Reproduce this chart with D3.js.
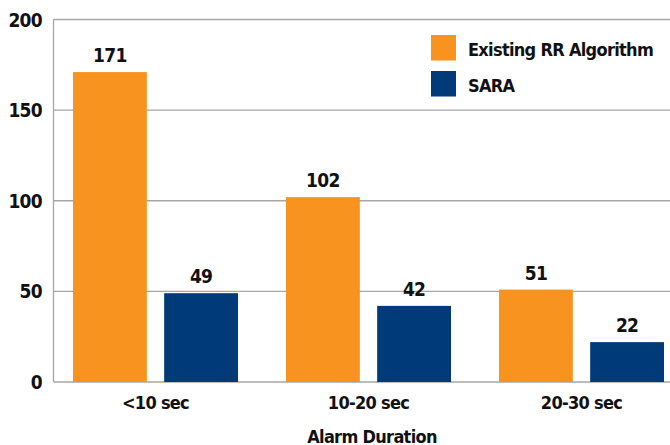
<!DOCTYPE html>
<html>
<head>
<meta charset="utf-8">
<script src="https://cdn.jsdelivr.net/npm/d3@7"></script>
<style>
  body { margin: 0; background: #fff; }
  svg text { font-family: "DejaVu Sans Condensed", "DejaVu Sans", sans-serif; font-weight: bold; fill: #111; letter-spacing: -0.7px; }
</style>
</head>
<body>
<svg id="chart" width="670" height="445"></svg>
<script>
// data
var categories = ["<10 sec", "10-20 sec", "20-30 sec"];
var seriesNames = ["Existing RR Algorithm", "SARA"];
var existingRR = [171, 102, 51];
var sara = [49, 42, 22];
var yTicks = [0, 50, 100, 150, 200];

var colors = ["#f7931e", "#003a78"];

var svg = d3.select("#chart");

var y = d3.scaleLinear().domain([0, 200]).range([382, 19.5]);
var x0 = d3.scaleBand().domain(categories).range([49, 688]).paddingInner(0).paddingOuter(0);
var x1 = d3.scaleBand().domain(seriesNames).range([24, x0.bandwidth() - 24]).paddingInner(0.19);

// gridlines
svg.append("g")
  .selectAll("line")
  .data(yTicks)
  .enter()
  .append("line")
  .attr("x1", 53.5).attr("x2", 670)
  .attr("y1", function (d) { return y(d); })
  .attr("y2", function (d) { return y(d); })
  .attr("stroke", "#a6a6a6")
  .attr("stroke-width", 1.3);

// left axis line
svg.append("line")
  .attr("x1", 53.5).attr("x2", 53.5)
  .attr("y1", y(200)).attr("y2", y(0))
  .attr("stroke", "#a6a6a6")
  .attr("stroke-width", 1.3);

// y tick labels
svg.append("g")
  .selectAll("text")
  .data(yTicks)
  .enter()
  .append("text")
  .attr("x", 42)
  .attr("y", function (d) { return y(d) + 7; })
  .attr("text-anchor", "end")
  .attr("font-size", 19)
  .text(function (d) { return d; });

var rows = categories.map(function (c, i) {
  return [{ cat: c, name: seriesNames[0], value: existingRR[i] },
          { cat: c, name: seriesNames[1], value: sara[i] }];
});

var groups = svg.append("g")
  .selectAll("g")
  .data(rows)
  .enter()
  .append("g")
  .attr("transform", function (d) { return "translate(" + x0(d[0].cat) + ",0)"; });

groups.selectAll("rect")
  .data(function (d) { return d; })
  .enter()
  .append("rect")
  .attr("x", function (d) { return x1(d.name); })
  .attr("width", x1.bandwidth())
  .attr("y", function (d) { return y(d.value); })
  .attr("height", function (d) { return y(0) - y(d.value); })
  .attr("fill", function (d, i) { return colors[i]; });

// value labels
groups.selectAll("text")
  .data(function (d) { return d; })
  .enter()
  .append("text")
  .attr("x", function (d) { return x1(d.name) + x1.bandwidth() / 2; })
  .attr("y", function (d) { return y(d.value) - 10; })
  .attr("text-anchor", "middle")
  .attr("font-size", 19)
  .text(function (d) { return d.value; });

// x category labels
svg.append("g")
  .selectAll("text")
  .data(categories)
  .enter()
  .append("text")
  .attr("x", function (d) { return x0(d) + x0.bandwidth() / 2; })
  .attr("y", 409)
  .attr("text-anchor", "middle")
  .attr("font-size", 18)
  .text(function (d) { return d; });

// axis title
svg.append("text")
  .attr("x", 372)
  .attr("y", 443)
  .attr("text-anchor", "middle")
  .attr("font-size", 18)
  .text("Alarm Duration");

// legend
var legend = svg.append("g")
  .selectAll("g")
  .data(seriesNames)
  .enter()
  .append("g")
  .attr("transform", function (d, i) { return "translate(431," + (35 + i * 36) + ")"; });

legend.append("rect")
  .attr("width", 25).attr("height", 25.5)
  .attr("fill", function (d, i) { return colors[i]; });

legend.append("text")
  .attr("x", 37)
  .attr("y", 21)
  .attr("font-size", 18)
  .text(function (d) { return d; });
</script>
</body>
</html>
